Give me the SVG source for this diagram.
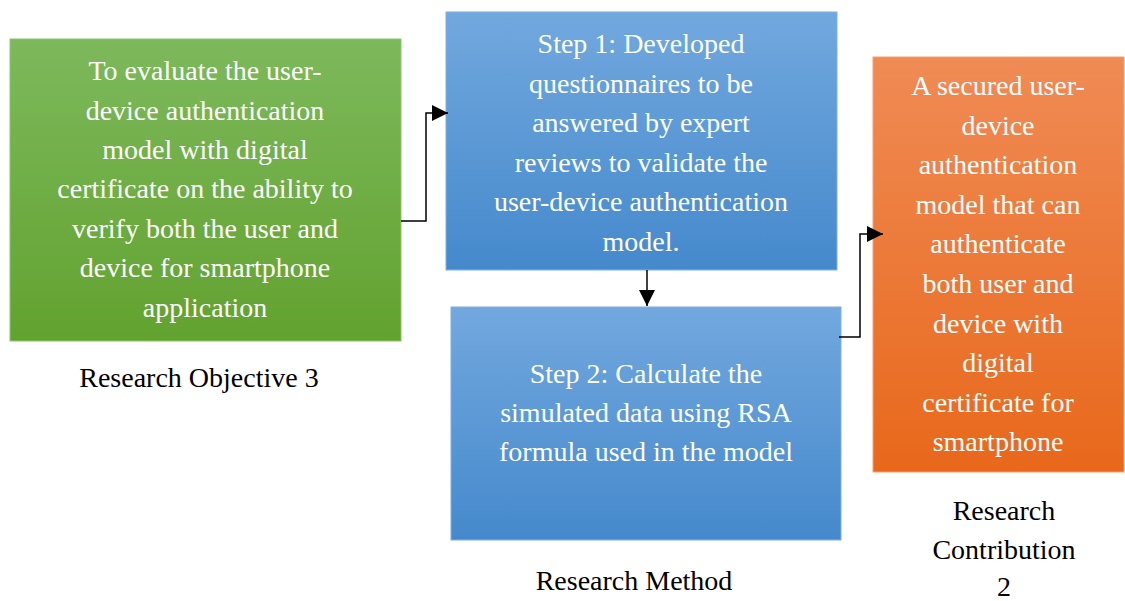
<svg xmlns="http://www.w3.org/2000/svg" width="1125" height="601" viewBox="0 0 1125 601">
<defs>
<linearGradient id="gGreen" x1="0" y1="0" x2="0" y2="1"><stop offset="0" stop-color="#7db95c"/><stop offset="1" stop-color="#62a22f"/></linearGradient>
<linearGradient id="gBlue" x1="0" y1="0" x2="0" y2="1"><stop offset="0" stop-color="#72a8de"/><stop offset="1" stop-color="#4589cc"/></linearGradient>
<linearGradient id="gOrange" x1="0" y1="0" x2="0" y2="1"><stop offset="0" stop-color="#f08b55"/><stop offset="1" stop-color="#e8681b"/></linearGradient>
<marker id="arr" viewBox="0 0 10 10" refX="10" refY="5" markerWidth="16" markerHeight="16" markerUnits="userSpaceOnUse" orient="auto"><path d="M0,0 L10,5 L0,10 Z" fill="#000"/></marker>
<style>
.t{fill:#fff}
.l{fill:#000}
.c{fill:none;stroke:#000;stroke-width:1.5}
</style>
</defs>
<rect width="1125" height="601" fill="#fff"/>
<g font-family="Liberation Serif, Times New Roman, serif" font-size="28" text-anchor="middle">
<g id="objective">
<rect x="10" y="39" width="391" height="302" fill="url(#gGreen)" stroke="#8cc46c" stroke-width="1"/>
<text class="t" x="205" y="80">To evaluate the user-</text>
<text class="t" x="205" y="120">device authentication</text>
<text class="t" x="205" y="159">model with digital</text>
<text class="t" x="205" y="198">certificate on the ability to</text>
<text class="t" x="205" y="238">verify both the user and</text>
<text class="t" x="205" y="277">device for smartphone</text>
<text class="t" x="205" y="317">application</text>
</g>
<g id="step1">
<rect x="446" y="12" width="391" height="258" fill="url(#gBlue)" stroke="#7fb0e0" stroke-width="1"/>
<text class="t" x="641" y="53">Step 1: Developed</text>
<text class="t" x="641" y="93">questionnaires to be</text>
<text class="t" x="641" y="132">answered by expert</text>
<text class="t" x="641" y="172">reviews to validate the</text>
<text class="t" x="641" y="211">user-device authentication</text>
<text class="t" x="641" y="251">model.</text>
</g>
<g id="step2">
<rect x="451" y="307" width="390" height="233" fill="url(#gBlue)" stroke="#7fb0e0" stroke-width="1"/>
<text class="t" x="646" y="383">Step 2: Calculate the</text>
<text class="t" x="646" y="422">simulated data using RSA</text>
<text class="t" x="646" y="461">formula used in the model</text>
</g>
<g id="contribution">
<rect x="873" y="57" width="251" height="415" fill="url(#gOrange)" stroke="#f3a070" stroke-width="1"/>
<text class="t" x="998" y="95">A secured user-</text>
<text class="t" x="998" y="135">device</text>
<text class="t" x="998" y="174">authentication</text>
<text class="t" x="998" y="214">model that can</text>
<text class="t" x="998" y="253">authenticate</text>
<text class="t" x="998" y="293">both user and</text>
<text class="t" x="998" y="333">device with</text>
<text class="t" x="998" y="372">digital</text>
<text class="t" x="998" y="412">certificate for</text>
<text class="t" x="998" y="451">smartphone</text>
</g>
<g id="labels">
<text class="l" x="199" y="387">Research Objective 3</text>
<rect x="459" y="548" width="340" height="53" fill="#fff"/>
<text class="l" x="634" y="590">Research Method</text>
<text class="l" x="1004" y="520">Research</text>
<text class="l" x="1004" y="559">Contribution</text>
<text class="l" x="1004" y="596">2</text>
</g>
</g>
<g id="connectors">
<path class="c" d="M401,221 H426 V113 H448" marker-end="url(#arr)"/>
<path class="c" d="M647,270 V306" marker-end="url(#arr)"/>
<path class="c" d="M839,337 H860 V234 H883" marker-end="url(#arr)"/>
</g>
</svg>
